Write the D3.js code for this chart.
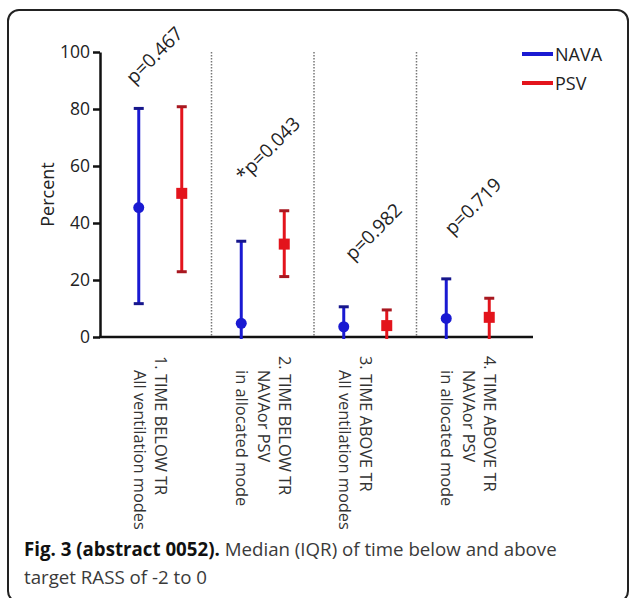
<!DOCTYPE html>
<html>
<head>
<meta charset="utf-8">
<script src="https://cdn.jsdelivr.net/npm/d3@7"></script>
<style>
  body { margin: 0; background: #fff; }
  svg { display: block; font-family: 'Open Sans', sans-serif; }
</style>
</head>
<body>
<svg id="chart" width="630" height="598"></svg>
<script>
// categories and their multi-line labels
const groups = ['g1', 'g2', 'g3', 'g4']
const groupLabels = [
	['1. TIME BELOW TR', 'All ventilation modes'],
	['2. TIME BELOW TR', 'NAVAor PSV', 'in allocated mode'],
	['3. TIME ABOVE TR', 'All ventilation modes'],
	['4. TIME ABOVE TR', 'NAVAor PSV', 'in allocated mode']
]
const series = ['NAVA', 'PSV']
const colors = { NAVA: '#1a1ad2', PSV: '#e3141c' }
const capColors = { NAVA: '#16168c', PSV: '#a81820' }

// median and IQR per group, percent
const navaMedian = [45.4, 4.8, 3.6, 6.5]
const navaLow = [11.7, 0, 0, 0]
const navaHigh = [80.2, 33.6, 10.6, 20.4]
const psvMedian = [50.4, 32.6, 4.0, 6.9]
const psvLow = [22.9, 21.2, 0, 0]
const psvHigh = [80.8, 44.3, 9.5, 13.6]

// p-value notes and the percent level where each sits
const pLabels = ['p=0.467', '*p=0.043', 'p=0.982', 'p=0.719']
const pLevels = [99, 66, 37, 46]
const pShift = [-6, 5, 8, 5]

const yTicks = [0, 20, 40, 60, 80, 100]

const svg = d3.select('#chart')

// frame
svg.append('rect')
	.attr('x', 8).attr('y', 10).attr('width', 620).attr('height', 592)
	.attr('rx', 11).attr('ry', 11)
	.style('fill', 'none').style('stroke', '#222').style('stroke-width', 2)

const x = d3.scaleBand().domain(groups).range([109, 519]).padding(0)
const xs = d3.scalePoint().domain(series).range([-21.5, 21.5])
const y = d3.scaleLinear().domain([0, 100]).range([337, 52])
const cx = g => x(g) + x.bandwidth() / 2

// dotted separators
svg.append('g').selectAll('line').data(groups.slice(1))
	.enter().append('line')
	.attr('x1', d => x(d)).attr('x2', d => x(d))
	.attr('y1', y(100)).attr('y2', y(0))
	.style('stroke', '#777').style('stroke-width', 1.5).style('stroke-dasharray', '1.5,1.5')

// y axis
const yAxis = svg.append('g')
	.attr('transform', 'translate(100,0)')
	.call(d3.axisLeft(y).tickValues(yTicks).tickSize(7).tickSizeOuter(0).tickPadding(3))
yAxis.select('.domain').style('stroke', '#111').style('stroke-width', 2.5)
yAxis.selectAll('.tick line').style('stroke', '#111').style('stroke-width', 2.5)
yAxis.selectAll('.tick text').style('font-size', '17.5px').style('fill', '#222')
	.style('font-family', "'Open Sans', sans-serif")

svg.append('text')
	.attr('transform', `translate(54,${(y(0) + y(100)) / 2}) rotate(-90)`)
	.style('text-anchor', 'middle').style('font-size', '18px').style('fill', '#222')
	.text('Percent')

// x axis line
svg.append('line')
	.attr('x1', 99).attr('x2', 533).attr('y1', y(0)).attr('y2', y(0))
	.style('stroke', '#111').style('stroke-width', 2.5)

// x labels, rotated, bottom aligned
groupLabels.forEach((lines, i) => {
	const g = svg.append('g')
		.attr('transform', `translate(${cx(groups[i])},356) rotate(90)`)
	const n = lines.length
	g.selectAll('text').data(lines)
		.enter().append('text')
		.attr('x', (d, j) => j > 0 ? 14 : 0)
		.attr('y', (d, j) => 20 - 21.5 * (n - 1 - j))
		.attr('dominant-baseline', 'central')
		.style('font-size', '16.4px').style('fill', '#333')
		.text(d => d)
})

// error bars and medians
const sets = {
	NAVA: groups.map((g, i) => ({ g, med: navaMedian[i], lo: navaLow[i], hi: navaHigh[i] })),
	PSV: groups.map((g, i) => ({ g, med: psvMedian[i], lo: psvLow[i], hi: psvHigh[i] }))
}

series.forEach(s => {
	const layer = svg.append('g')
	const px = d => cx(d.g) + xs(s)
	layer.selectAll('.bar').data(sets[s])
		.enter().append('line')
		.attr('x1', px).attr('x2', px)
		.attr('y1', d => y(d.lo) + (d.lo === 0 ? 2 : 0)).attr('y2', d => y(d.hi))
		.style('stroke', colors[s]).style('stroke-width', 3)
	layer.selectAll('.cap').data(sets[s].flatMap(d => [
		{ d, v: d.hi }, ...(d.lo > 0 ? [{ d, v: d.lo }] : [])
	]))
		.enter().append('line')
		.attr('x1', e => px(e.d) - 5).attr('x2', e => px(e.d) + 5)
		.attr('y1', e => y(e.v)).attr('y2', e => y(e.v))
		.style('stroke', capColors[s]).style('stroke-width', 3)
	if (s === 'NAVA') {
		layer.selectAll('.pt').data(sets[s])
			.enter().append('circle')
			.attr('cx', px).attr('cy', d => y(d.med)).attr('r', 5.5)
			.style('fill', colors[s])
	}
	else {
		layer.selectAll('.pt').data(sets[s])
			.enter().append('rect')
			.attr('x', d => px(d) - 5.5).attr('y', d => y(d.med) - 5.5)
			.attr('width', 11).attr('height', 11)
			.style('fill', colors[s])
	}
})

// p-values
svg.append('g').selectAll('text').data(pLabels)
	.enter().append('text')
	.attr('transform', (d, i) => `translate(${cx(groups[i]) + pShift[i]},${y(pLevels[i])}) rotate(-45)`)
	.attr('dominant-baseline', 'central')
	.style('text-anchor', 'middle').style('font-size', '19px').style('fill', '#222')
	.text(d => d)

// legend
const legend = svg.append('g').attr('transform', 'translate(522,54)')
series.forEach((s, i) => {
	legend.append('line')
		.attr('x1', 0).attr('x2', 31).attr('y1', i * 29).attr('y2', i * 29)
		.style('stroke', colors[s]).style('stroke-width', 4)
	legend.append('text')
		.attr('x', 33).attr('y', i * 29)
		.attr('dominant-baseline', 'central')
		.style('font-size', '18px').style('fill', '#222')
		.text(s)
})

// caption
const cap = svg.append('text').attr('x', 24).attr('y', 556)
	.style('font-size', '18.7px').style('fill', '#3a3a3a')
cap.append('tspan').style('font-weight', 'bold').style('fill', '#111').text('Fig. 3 (abstract 0052).')
cap.append('tspan').text(' Median (IQR) of time below and above')
svg.append('text').attr('x', 24).attr('y', 584)
	.style('font-size', '18.7px').style('fill', '#3a3a3a')
	.text('target RASS of -2 to 0')
</script>
</body>
</html>
